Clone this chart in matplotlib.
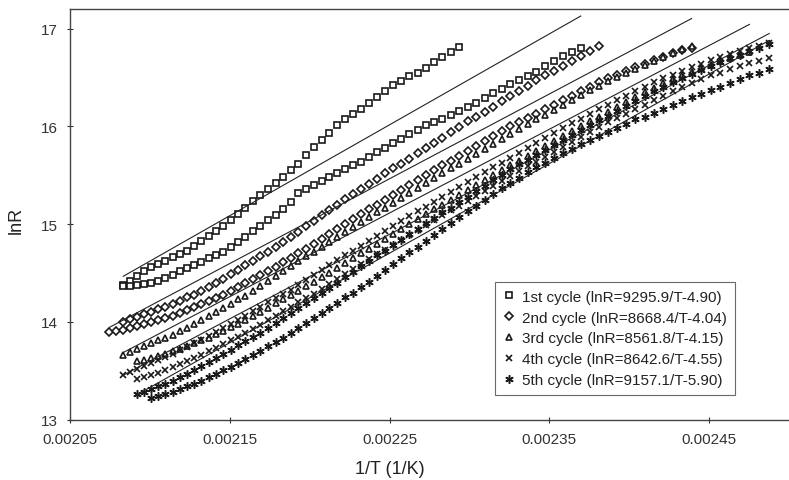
import numpy as np
import matplotlib
matplotlib.use("Agg")
import matplotlib.pyplot as plt

plt.rcParams['font.family'] = ['Liberation Sans', 'DejaVu Sans']

# ---------------- data ----------------
# each cycle shows two rows of points; measurement temperatures T (K) in 1 K steps, y = lnR
T1a = list(range(480, 435, -1))
y1a = [14.38,14.42,14.47,14.52,14.56,14.59,14.62,14.66,14.69,14.73,14.78,14.83,14.88,14.93,14.98,
       15.04,15.10,15.17,15.24,15.30,15.36,15.42,15.48,15.55,15.62,15.71,15.79,15.86,15.93,16.01,
       16.08,16.13,16.18,16.24,16.30,16.36,16.42,16.46,16.51,16.55,16.60,16.66,16.71,16.76,16.81]
T1b = list(range(480, 421, -1))
y1b = [14.37,14.37,14.38,14.39,14.40,14.42,14.45,14.48,14.52,14.55,14.58,14.61,14.65,14.68,14.72,
       14.77,14.82,14.87,14.93,14.98,15.04,15.09,15.15,15.23,15.32,15.36,15.40,15.44,15.48,15.52,
       15.56,15.60,15.64,15.69,15.74,15.78,15.83,15.87,15.92,15.96,16.01,16.04,16.08,16.12,16.16,
       16.20,16.24,16.29,16.34,16.38,16.43,16.47,16.51,16.56,16.62,16.67,16.72,16.76,16.80]

T2a = list(range(480, 419, -1))
y2a = [14.00,14.03,14.05,14.08,14.10,14.13,14.15,14.18,14.21,14.25,14.28,14.32,14.36,14.40,14.44,
       14.49,14.53,14.58,14.62,14.67,14.72,14.77,14.82,14.87,14.92,14.98,15.03,15.09,15.14,15.20,
       15.26,15.31,15.36,15.41,15.46,15.52,15.57,15.62,15.67,15.73,15.78,15.83,15.88,15.94,15.99,
       16.05,16.10,16.15,16.20,16.26,16.31,16.36,16.41,16.47,16.52,16.57,16.62,16.67,16.72,16.77,16.82]
T2b = list(range(482, 409, -1))
y2b = [13.90,13.91,13.92,13.94,13.96,13.98,14.00,14.02,14.04,14.06,14.09,14.12,14.15,14.18,14.21,
       14.24,14.28,14.32,14.36,14.40,14.44,14.48,14.52,14.56,14.61,14.65,14.70,14.75,14.80,14.85,
       14.90,14.95,15.00,15.05,15.10,15.15,15.20,15.25,15.30,15.35,15.40,15.45,15.50,15.55,15.60,
       15.65,15.70,15.75,15.80,15.85,15.90,15.95,16.00,16.04,16.09,16.13,16.18,16.22,16.27,16.31,
       16.36,16.40,16.45,16.49,16.53,16.57,16.61,16.64,16.68,16.71,16.75,16.78,16.80]

T3a = list(range(480, 409, -1))
y3a = [13.66,13.69,13.72,13.75,13.78,13.81,13.84,13.87,13.91,13.94,13.98,14.02,14.06,14.10,14.14,
       14.18,14.23,14.27,14.32,14.37,14.42,14.47,14.52,14.57,14.62,14.67,14.72,14.77,14.82,14.87,
       14.92,14.97,15.02,15.07,15.12,15.17,15.22,15.27,15.32,15.37,15.42,15.47,15.52,15.57,15.62,
       15.67,15.72,15.77,15.82,15.87,15.92,15.97,16.02,16.07,16.12,16.17,16.22,16.27,16.32,16.37,
       16.41,16.46,16.50,16.55,16.59,16.63,16.67,16.71,16.75,16.79,16.82]
T3b = list(range(478, 403, -1))
y3b = [13.60,13.61,13.63,13.65,13.67,13.70,13.72,13.75,13.78,13.81,13.84,13.88,13.91,13.95,13.98,
       14.02,14.06,14.10,14.14,14.19,14.23,14.28,14.32,14.37,14.41,14.46,14.50,14.55,14.60,14.65,
       14.70,14.75,14.80,14.85,14.90,14.95,15.00,15.05,15.10,15.15,15.20,15.25,15.30,15.35,15.40,
       15.45,15.50,15.55,15.60,15.65,15.70,15.75,15.80,15.85,15.90,15.95,16.00,16.05,16.10,16.15,
       16.20,16.25,16.30,16.35,16.39,16.44,16.48,16.52,16.56,16.60,16.63,16.67,16.70,16.73,16.76]

T4a = list(range(480, 401, -1))
y4a = [13.46,13.49,13.52,13.55,13.58,13.61,13.64,13.67,13.71,13.74,13.78,13.82,13.86,13.90,13.94,
       13.98,14.02,14.06,14.11,14.15,14.20,14.24,14.29,14.33,14.38,14.43,14.48,14.53,14.58,14.63,
       14.68,14.73,14.78,14.83,14.88,14.93,14.98,15.03,15.08,15.13,15.18,15.23,15.28,15.33,15.38,
       15.43,15.48,15.53,15.58,15.63,15.68,15.73,15.78,15.83,15.88,15.93,15.98,16.03,16.08,16.13,
       16.18,16.22,16.27,16.31,16.36,16.40,16.45,16.49,16.53,16.57,16.61,16.64,16.68,16.71,16.74,
       16.77,16.80,16.82,16.85]
T4b = list(range(478, 401, -1))
y4b = [13.42,13.44,13.46,13.48,13.51,13.54,13.57,13.60,13.63,13.66,13.70,13.73,13.77,13.81,13.85,
       13.89,13.93,13.97,14.02,14.06,14.11,14.15,14.20,14.24,14.29,14.34,14.39,14.44,14.49,14.54,
       14.59,14.64,14.69,14.74,14.79,14.84,14.89,14.94,14.99,15.04,15.09,15.14,15.19,15.24,15.29,
       15.34,15.39,15.44,15.49,15.54,15.59,15.64,15.69,15.74,15.79,15.84,15.89,15.94,15.99,16.04,
       16.09,16.13,16.18,16.22,16.27,16.31,16.36,16.40,16.44,16.48,16.52,16.55,16.59,16.62,16.65,
       16.67,16.70]

T5a = list(range(478, 401, -1))
y5a = [13.26,13.28,13.31,13.34,13.37,13.40,13.44,13.47,13.51,13.55,13.59,13.63,13.67,13.71,13.76,
       13.80,13.85,13.89,13.94,13.99,14.04,14.09,14.14,14.19,14.24,14.30,14.35,14.40,14.46,14.51,
       14.57,14.62,14.68,14.73,14.79,14.84,14.90,14.95,15.01,15.06,15.12,15.17,15.23,15.28,15.34,
       15.39,15.45,15.50,15.56,15.61,15.66,15.71,15.76,15.81,15.86,15.91,15.96,16.01,16.06,16.11,
       16.16,16.21,16.26,16.31,16.36,16.40,16.45,16.49,16.54,16.58,16.62,16.66,16.70,16.73,16.77,
       16.80,16.84]
T5b = list(range(476, 401, -1))
y5b = [13.22,13.24,13.26,13.28,13.31,13.34,13.37,13.40,13.44,13.47,13.51,13.54,13.58,13.62,13.66,
       13.70,13.75,13.79,13.84,13.89,13.94,13.99,14.04,14.09,14.14,14.19,14.25,14.30,14.36,14.41,
       14.47,14.53,14.59,14.65,14.71,14.77,14.83,14.89,14.95,15.01,15.07,15.13,15.19,15.25,15.31,
       15.37,15.42,15.47,15.53,15.58,15.63,15.68,15.73,15.77,15.82,15.86,15.90,15.94,15.98,16.02,
       16.07,16.10,16.14,16.18,16.22,16.26,16.30,16.33,16.37,16.40,16.44,16.48,16.52,16.55,16.59]

# fitted equations lnR = slope/T + intercept (from legend)
slopes = [9295.9, 8668.4, 8561.8, 8642.6, 9157.1]
intercepts = [-4.90, -4.04, -4.15, -4.55, -5.90]
labels = ["1st cycle (lnR=9295.9/T-4.90)", "2nd cycle (lnR=8668.4/T-4.04)",
          "3rd cycle (lnR=8561.8/T-4.15)", "4th cycle (lnR=8642.6/T-4.55)",
          "5th cycle (lnR=9157.1/T-5.90)"]

x_ticks = [0.00205, 0.00215, 0.00225, 0.00235, 0.00245]
y_ticks = [13, 14, 15, 16, 17]

# ---------------- figure ----------------
fig = plt.figure(figsize=(7.89, 4.81), dpi=100)
ax = fig.add_axes([70/789, 1-420.7/481, 1-70/789, (420.7-10)/481])

series = [((T1a, y1a), (T1b, y1b)), ((T2a, y2a), (T2b, y2b)), ((T3a, y3a), (T3b, y3b)),
          ((T4a, y4a), (T4b, y4b)), ((T5a, y5a), (T5b, y5b))]
star = (6, 2, 0)
ec = '#1a1a1a'
styles = [dict(marker='s', ms=5, mfc='white', mec=ec, mew=1.2),
          dict(marker='D', ms=4, mfc='white', mec=ec, mew=1.2),
          dict(marker='^', ms=5, mfc='white', mec=ec, mew=1.2),
          dict(marker='x', ms=5, mec=ec, mew=1.2),
          dict(marker=star, ms=6, mec=ec, mew=1.1)]

handles = []
for k, (branches, st) in enumerate(zip(series, styles)):
    xs_all = []
    for (T, y) in branches:
        x = 1.0 / np.asarray(T, dtype=float)
        xs_all.append(x)
        h, = ax.plot(x, y, linestyle='none', **st)
    handles.append(h)
    xall = np.concatenate(xs_all)
    xl = np.array([xall.min(), xall.max()])
    ax.plot(xl, slopes[k] * xl + intercepts[k], color='#222222', lw=0.8)

ax.set_xlim(0.00205, 0.0025)
ax.set_ylim(13, 17.2)
ax.set_xticks(x_ticks)
ax.set_xticklabels([f"{v:.5f}" for v in x_ticks])
ax.set_yticks(y_ticks)
ax.tick_params(direction='inout', length=5, width=0.8, labelsize=11, colors='#333333', pad=6)
for s in ['left', 'bottom', 'top']:
    ax.spines[s].set_color('#444444')
    ax.spines[s].set_linewidth(1.0)
ax.spines['right'].set_visible(False)

fig.text(16/789, 1-220/481, "lnR", rotation=90, ha='center', va='center', fontsize=13, color='#222222')
fig.text(390/789, 1-470/481, "1/T (1/K)", ha='center', va='center', fontsize=13, color='#222222')

leg = ax.legend(handles, labels, loc='upper right', bbox_to_anchor=(735/789, 1-283/481),
                bbox_transform=fig.transFigure, borderaxespad=0, fontsize=11, frameon=True,
                fancybox=False, edgecolor='#444444', handlelength=0.8, handletextpad=0.5,
                labelspacing=0.45, borderpad=0.5)
leg.get_frame().set_linewidth(0.8)
for t in leg.get_texts():
    t.set_color('#222222')

fig.savefig("out.png", dpi=100)
